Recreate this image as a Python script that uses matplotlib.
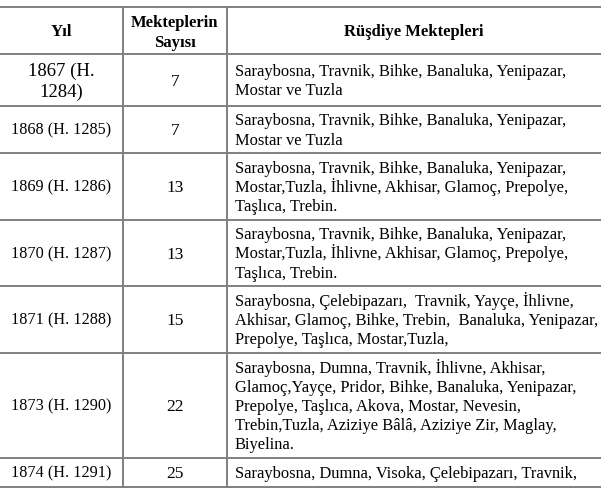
import matplotlib.pyplot as plt

# Data
headers = ["Yıl", "Mekteplerin\nSayısı", "Rüşdiye Mektepleri"]
years = ["1867 (H.\n1284)", "1868 (H. 1285)", "1869 (H. 1286)", "1870 (H. 1287)",
         "1871 (H. 1288)", "1873 (H. 1290)", "1874 (H. 1291)"]
counts = [7, 7, 13, 13, 15, 22, 25]
schools = [
    "Saraybosna, Travnik, Bihke, Banaluka, Yenipazar,\nMostar ve Tuzla",
    "Saraybosna, Travnik, Bihke, Banaluka, Yenipazar,\nMostar ve Tuzla",
    "Saraybosna, Travnik, Bihke, Banaluka, Yenipazar,\nMostar,Tuzla, İhlivne, Akhisar, Glamoç, Prepolye,\nTaşlıca, Trebin.",
    "Saraybosna, Travnik, Bihke, Banaluka, Yenipazar,\nMostar,Tuzla, İhlivne, Akhisar, Glamoç, Prepolye,\nTaşlıca, Trebin.",
    "Saraybosna, Çelebipazarı,  Travnik, Yayçe, İhlivne,\nAkhisar, Glamoç, Bihke, Trebin,  Banaluka, Yenipazar,\nPrepolye, Taşlıca, Mostar,Tuzla,",
    "Saraybosna, Dumna, Travnik, İhlivne, Akhisar,\nGlamoç,Yayçe, Pridor, Bihke, Banaluka, Yenipazar,\nPrepolye, Taşlıca, Akova, Mostar, Nevesin,\nTrebin,Tuzla, Aziziye Bâlâ, Aziziye Zir, Maglay,\nBiyelina.",
    "Saraybosna, Dumna, Visoka, Çelebipazarı, Travnik,",
]

# row boundaries (pixels from top)
row_lines = [7, 54, 106, 153, 220, 286, 353, 458, 487]
col_lines = [123, 227]

fig = plt.figure(figsize=(6.01, 5.03), dpi=100)
ax = fig.add_axes([0, 0, 1, 1])
ax.set_xlim(0, 601)
ax.set_ylim(503, 0)
ax.axis("off")

font = "Liberation Serif"
lc = "#808080"


def block(x, cy, text, size, step, ha="center", weight="normal"):
    # draw each line on its own baseline so spacing stays even
    lines = text.split("\n")
    n = len(lines)
    px = size * 100 / 72
    for j, s in enumerate(lines):
        y = cy + (j - (n - 1) / 2) * step + 0.33 * px
        ax.text(x, y, s, ha=ha, va="baseline", family=font,
                fontsize=size, fontweight=weight)


for y in row_lines:
    ax.plot([0, 601], [y, y], color=lc, lw=1.4)
for x in col_lines:
    ax.plot([x, x], [row_lines[0], row_lines[-1]], color=lc, lw=1.4)

# header
hy = (row_lines[0] + row_lines[1]) / 2
block(61, hy, headers[0], 12, 20, weight="bold")
block(175, hy + 1, headers[1], 12, 20, weight="bold")
block(414, hy, headers[2], 12, 20, weight="bold")

for i in range(len(years)):
    top, bot = row_lines[i + 1], row_lines[i + 2]
    cy = (top + bot) / 2
    fs = 13.5 if i == 0 else 11.7
    block(61, cy, years[i], fs, 21)
    block(175, cy, str(counts[i]), 12.5, 19)
    block(235, cy, schools[i], 11.9, 19.2, ha="left")

fig.savefig("out.png", dpi=100)
